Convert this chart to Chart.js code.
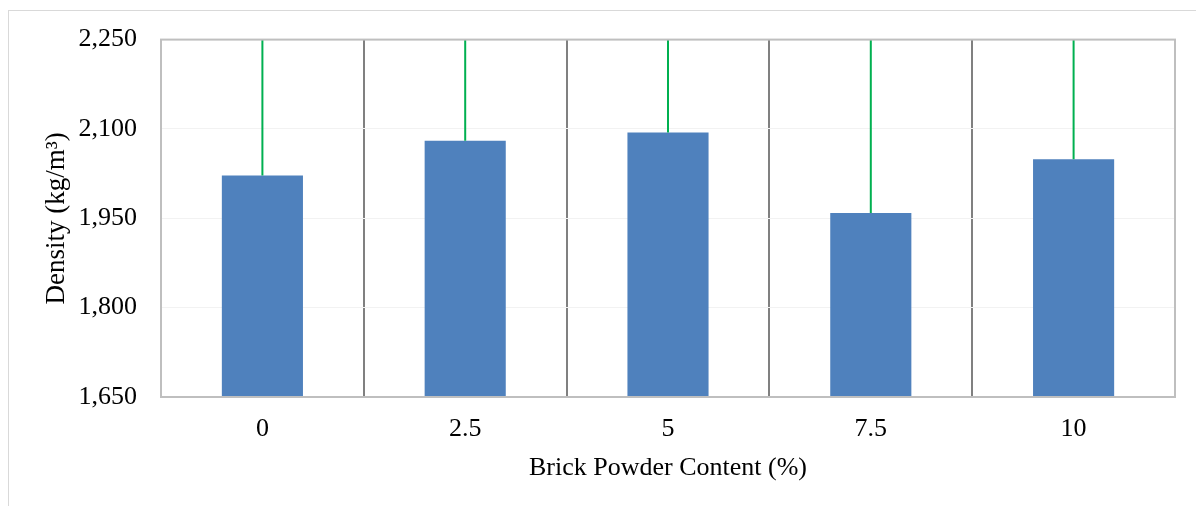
<!DOCTYPE html>
<html>
<head>
<meta charset="utf-8">
<script src="https://cdn.jsdelivr.net/npm/chart.js@4/dist/chart.umd.min.js"></script>
<style>
  html, body { margin: 0; padding: 0; background: #fff; overflow: hidden; }
  #frame { position: absolute; left: 8px; top: 10px; width: 1200px; height: 520px; border: 1px solid #d9d9d9; box-sizing: border-box; }
  #wrap { position: absolute; left: 0; top: 0; width: 1196px; height: 506px; }
</style>
</head>
<body>
<div id="frame"></div>
<div id="wrap"><canvas id="densityChart"></canvas></div>
<script>
'use strict';

/* ── 데이터 ─────────────────────────────── */
const categories = ['0', '2.5', '5', '7.5', '10'];
const density    = [2022, 2080, 2094, 1959, 2049];
const errorUp    = [300, 250, 250, 350, 300];   // 위쪽 오차 (축 밖으로 잘림)
const yTicks     = [1650, 1800, 1950, 2100, 2250];

const FONT = 'Liberation Serif, Times New Roman, serif';

/* ── 플러그인: 오차막대 + 플롯 테두리 ────── */
const errorBars = {
  id: 'errorBars',
  afterDatasetsDraw(chart) {
    const { ctx, chartArea: a, scales: { y } } = chart;
    const meta = chart.getDatasetMeta(0);
    ctx.save();
    ctx.beginPath();
    ctx.rect(a.left, a.top, a.right - a.left, a.bottom - a.top);
    ctx.clip();
    ctx.strokeStyle = '#00b050';
    ctx.lineWidth = 2;
    meta.data.forEach((bar, i) => {
      const y0 = y.getPixelForValue(density[i]);
      const y1 = y.getPixelForValue(density[i] + errorUp[i]);
      ctx.beginPath();
      ctx.moveTo(bar.x, y0);
      ctx.lineTo(bar.x, y1);
      ctx.stroke();
    });
    ctx.restore();
  },
};

const plotBorder = {
  id: 'plotBorder',
  afterDraw(chart) {
    const { ctx, chartArea: a } = chart;
    ctx.save();
    ctx.strokeStyle = '#bfbfbf';
    ctx.lineWidth = 2;
    ctx.strokeRect(a.left, a.top, a.right - a.left, a.bottom - a.top);
    ctx.restore();
  },
};

/* ── 차트 ───────────────────────────────── */
new Chart(document.getElementById('densityChart').getContext('2d'), {
  type: 'bar',
  data: {
    labels: categories,
    datasets: [{
      label: 'Density',
      data: density,
      backgroundColor: '#4f81bd',
      barPercentage: 0.4,
      categoryPercentage: 1.0,
    }],
  },
  options: {
    responsive: true,
    maintainAspectRatio: false,
    animation: false,
    layout: { padding: { top: 39, right: 21, left: 0, bottom: 0 } },
    plugins: { legend: { display: false }, tooltip: { enabled: false } },
    scales: {
      x: {
        grid: { offset: true, color: '#808080', lineWidth: 2, drawTicks: false },
        border: { display: false },
        ticks: { color: '#000', font: { family: FONT, size: 26 }, padding: 17 },
        title: {
          display: true, text: 'Brick Powder Content (%)', color: '#000',
          font: { family: FONT, size: 26 }, padding: { top: 0, bottom: 22 },
        },
        afterFit(scale) { scale.height = 109; },
      },
      y: {
        min: 1650, max: 2250,
        afterBuildTicks(scale) { scale.ticks = yTicks.map(v => ({ value: v })); },
        grid: { color: '#f2f2f2', lineWidth: 1, drawTicks: false },
        border: { display: false },
        ticks: {
          color: '#000', font: { family: FONT, size: 26 }, padding: 24,
          callback: v => v.toLocaleString('en-US'),
        },
        title: {
          display: true, text: 'Density (kg/m³)', color: '#000',
          font: { family: FONT, size: 27 }, padding: { top: 41, bottom: 0 },
        },
        afterFit(scale) { scale.width = 161; },
      },
    },
  },
  plugins: [errorBars, plotBorder],
});
</script>
</body>
</html>
